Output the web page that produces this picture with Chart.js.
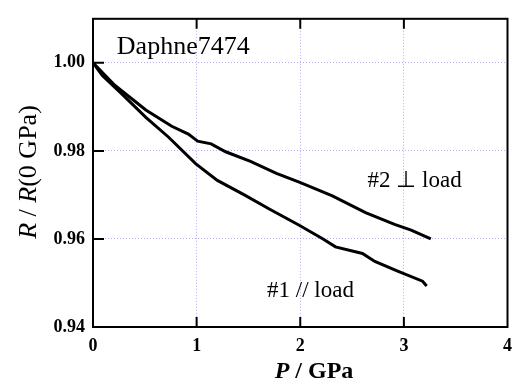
<!DOCTYPE html>
<html>
<head>
<meta charset="utf-8">
<script src="https://cdn.jsdelivr.net/npm/chart.js@4/dist/chart.umd.min.js"></script>
<style>
  body { margin: 0; background: #fff; }
</style>
</head>
<body>
<canvas id="myChart" width="521" height="383"></canvas>
<script>
// sample #1, current parallel to load
var pressure1 = [0, 0.09, 0.28, 0.51, 0.73, 0.99, 1.20, 1.46, 1.71, 1.99, 2.22, 2.34, 2.60, 2.72, 2.94, 3.18, 3.22];
var ratio1 = [1.000, 0.9971, 0.9929, 0.9876, 0.9831, 0.9771, 0.9733, 0.9700, 0.9667, 0.9631, 0.9600, 0.9582, 0.9567, 0.9549, 0.9527, 0.9504, 0.9493];

// sample #2, current perpendicular to load
var pressure2 = [0, 0.21, 0.51, 0.76, 0.92, 1.01, 1.14, 1.28, 1.52, 1.77, 1.99, 2.31, 2.63, 2.91, 3.07, 3.26];
var ratio2 = [1.000, 0.9949, 0.9893, 0.9856, 0.9838, 0.9822, 0.9816, 0.9798, 0.9776, 0.9749, 0.9729, 0.9698, 0.9660, 0.9633, 0.9620, 0.9600];

var xTicks = [0, 1, 2, 3, 4];
var xTickLabels = ["0", "1", "2", "3", "4"];
var yTicks = [0.94, 0.96, 0.98, 1.00];
var yTickLabels = ["0.94", "0.96", "0.98", "1.00"];

var serif = "'Liberation Serif', 'Times New Roman', serif";

function toPoints(xs, ys) {
  return xs.map(function (x, i) { return { x: x, y: ys[i] }; });
}

// frame, inward ticks, titles and labels
var decorations = {
  id: "decorations",
  afterDraw: function (chart) {
    var ctx = chart.ctx;
    var a = chart.chartArea;
    var xs = chart.scales.x;
    var ys = chart.scales.y;
    ctx.save();
    ctx.strokeStyle = "#000";
    ctx.lineWidth = 2;
    ctx.strokeRect(a.left, a.top, a.right - a.left, a.bottom - a.top);

    ctx.beginPath();
    [1, 2, 3].forEach(function (v) {
      var px = xs.getPixelForValue(v);
      ctx.moveTo(px, a.bottom); ctx.lineTo(px, a.bottom - 10);
      ctx.moveTo(px, a.top); ctx.lineTo(px, a.top + 10);
    });
    [0.96, 0.98, 1.00].forEach(function (v) {
      var py = ys.getPixelForValue(v);
      ctx.moveTo(a.left, py); ctx.lineTo(a.left + 11, py);
    });
    ctx.stroke();

    ctx.fillStyle = "#000";
    ctx.textBaseline = "alphabetic";
    ctx.textAlign = "left";
    ctx.font = "26px " + serif;
    ctx.fillText("Daphne7474", xs.getPixelForValue(0.23), ys.getPixelForValue(1.002));
    ctx.font = "23px " + serif;
    ctx.fillText("#2 \u22a5 load", xs.getPixelForValue(2.65), ys.getPixelForValue(0.9718));
    ctx.fillText("#1 // load", xs.getPixelForValue(1.68), ys.getPixelForValue(0.9469));

    // x title: P / GPa
    var xParts = [["italic bold 24px ", "P"], ["bold 24px ", " / GPa"]];
    drawParts(ctx, xParts, 314, 378);

    // y title: R / R(0 GPa)
    ctx.save();
    ctx.translate(36, 172);
    ctx.rotate(-Math.PI / 2);
    var yParts = [["italic 26px ", "R"], ["26px ", " / "], ["italic 26px ", "R"], ["26px ", "(0 GPa)"]];
    drawParts(ctx, yParts, 0, 0);
    ctx.restore();

    ctx.restore();
  }
};

function drawParts(ctx, parts, cx, baseline) {
  var total = 0;
  parts.forEach(function (p) {
    ctx.font = p[0] + serif;
    total += ctx.measureText(p[1]).width;
  });
  var x = cx - total / 2;
  ctx.textAlign = "left";
  parts.forEach(function (p) {
    ctx.font = p[0] + serif;
    ctx.fillText(p[1], x, baseline);
    x += ctx.measureText(p[1]).width;
  });
}

var ctx = document.getElementById("myChart").getContext("2d");
var chart = new Chart(ctx, {
  type: "line",
  data: {
    datasets: [
      {
        label: "#1 // load",
        data: toPoints(pressure1, ratio1),
        borderColor: "#000",
        borderWidth: 3,
        pointRadius: 0,
        tension: 0,
        fill: false
      },
      {
        label: "#2 \u22a5 load",
        data: toPoints(pressure2, ratio2),
        borderColor: "#000",
        borderWidth: 3,
        pointRadius: 0,
        tension: 0,
        fill: false
      }
    ]
  },
  options: {
    responsive: false,
    animation: false,
    layout: { padding: { top: 12, right: 6, left: 0, bottom: 0 } },
    plugins: {
      legend: { display: false },
      tooltip: { enabled: false }
    },
    scales: {
      x: {
        type: "linear",
        min: 0,
        max: 4,
        afterBuildTicks: function (scale) {
          scale.ticks = xTicks.map(function (v) { return { value: v }; });
        },
        afterFit: function (scale) { scale.height = 56; },
        ticks: {
          padding: 9,
          color: "#000",
          font: { family: serif, size: 18, weight: "bold" },
          maxRotation: 0,
          callback: function (v) { return xTickLabels[xTicks.indexOf(v)]; }
        },
        grid: {
          color: "rgba(140, 140, 235, 0.7)",
          lineWidth: 1,
          drawTicks: false
        },
        border: { display: false, dash: [1, 2] }
      },
      y: {
        type: "linear",
        min: 0.94,
        max: 1.01,
        afterBuildTicks: function (scale) {
          scale.ticks = yTicks.map(function (v) { return { value: v }; });
        },
        afterFit: function (scale) { scale.width = 93; },
        ticks: {
          padding: 8,
          color: "#000",
          font: { family: serif, size: 18, weight: "bold" },
          callback: function (v) {
            var i = yTicks.findIndex(function (t) { return Math.abs(t - v) < 1e-9; });
            return yTickLabels[i];
          }
        },
        grid: {
          color: "rgba(140, 140, 235, 0.7)",
          lineWidth: 1,
          drawTicks: false
        },
        border: { display: false, dash: [1, 2] }
      }
    }
  },
  plugins: [decorations]
});
</script>
</body>
</html>
